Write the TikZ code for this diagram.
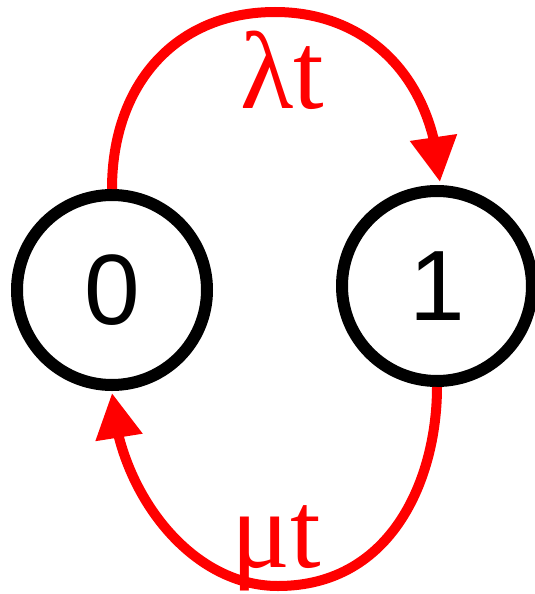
\documentclass[tikz,border=0pt]{standalone}
\usepackage{fontspec}
\setmainfont{Liberation Serif}
\newfontfamily\digitfont{Liberation Sans}
\usetikzlibrary{arrows.meta,bending}
\begin{document}
\begin{tikzpicture}[x=1pt,y=-1pt,
  state/.style={circle,draw=black,line width=12pt,minimum size=190pt,inner sep=0pt,
    font=\digitfont\fontsize{100}{100}\selectfont},
  trans/.style={draw=red,line width=10pt,-{Triangle[length=45pt,width=45pt]}},
  rate/.style={text=red,font=\fontsize{110}{110}\selectfont,anchor=base,inner sep=0pt}]
\useasboundingbox (0,0) rectangle (535,594);
\node[state] (n0) at (112,290) {0};
\node[state] (n1) at (437,286) {1};
\coordinate (top) at (275,12);
\coordinate (bot) at (278,586);
\draw[trans] (n0.north) .. controls +(0,-106) and +(-98,0) .. (top)
  .. controls +(92,0) and +(-6,-105) .. ([xshift=3pt,yshift=3pt]n1.north);
\draw[trans] (n1.south) .. controls +(0,90) and +(115,0) .. (bot)
  .. controls +(-90,0) and +(5,95) .. ([yshift=-2pt]n0.south);
\node[rate] (lam) at (282,108) {λt};
\node[rate] (mu) at (276,567) {μt};
\end{tikzpicture}
\end{document}
